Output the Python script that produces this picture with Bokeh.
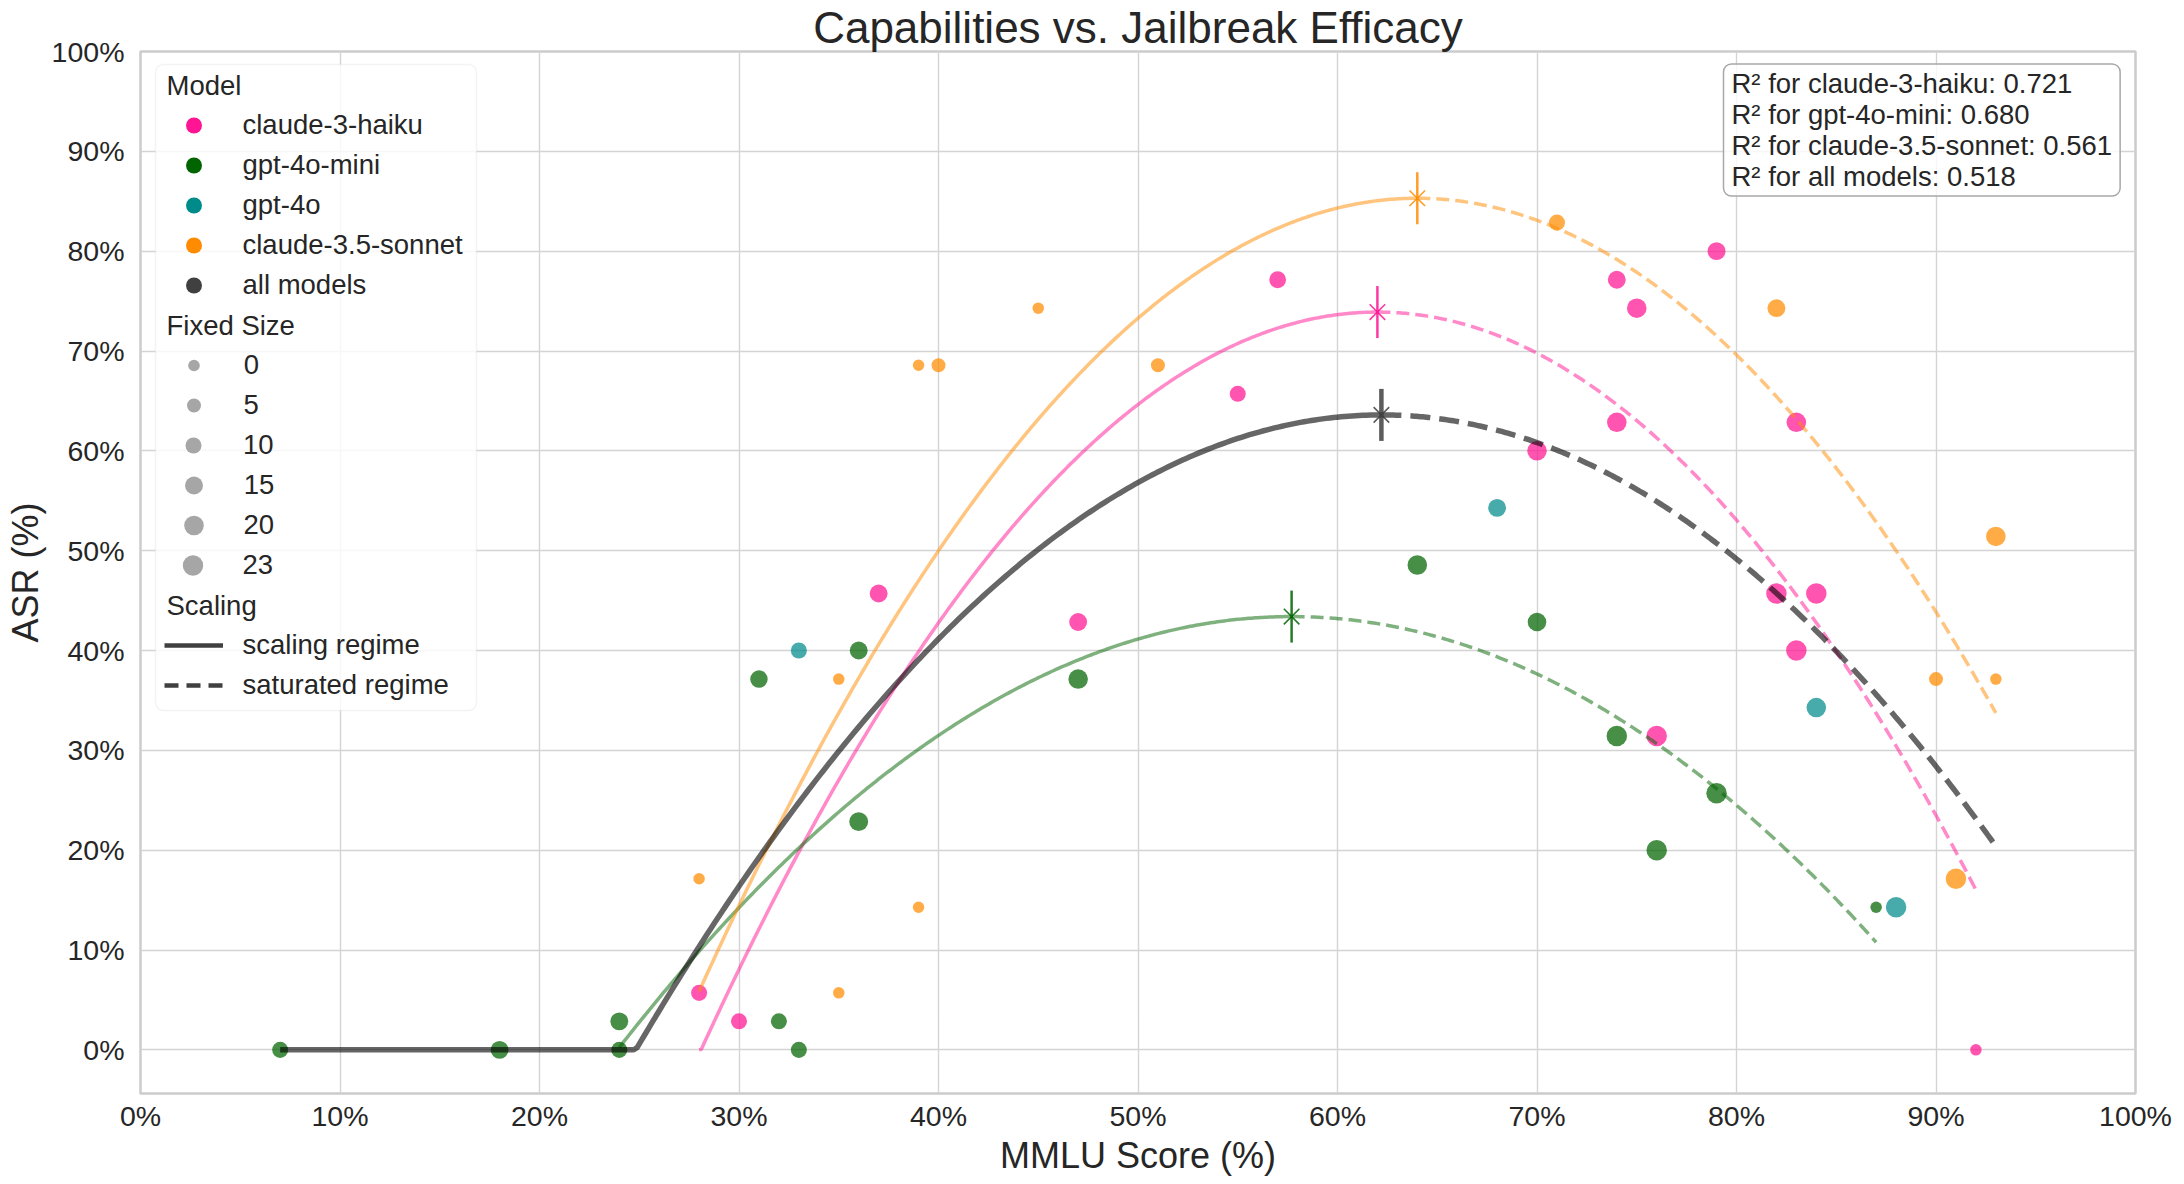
import numpy as np
from bokeh.plotting import figure
from bokeh.models import (Legend, LegendItem, Label, BoxAnnotation, FixedTicker,
                          Range1d, ColumnDataSource)
from bokeh.embed import file_html
from bokeh.resources import INLINE

FONT = "Liberation Sans"
TXT = "#262626"

# ---------------- data ----------------
models = ["claude-3-haiku", "gpt-4o-mini", "gpt-4o", "claude-3.5-sonnet"]
model_colors = ["#ff1493", "#006400", "#008b8b", "#ff8c00"]
all_label = "all models"
all_color = "#404040"

haiku_mmlu = [28, 30, 37, 47, 55, 57, 70, 74, 75, 74, 79, 82, 83, 83, 84, 76, 92]
haiku_asr = [5.71, 2.86, 45.71, 42.86, 65.71, 77.14, 60.0, 77.14, 74.29, 62.86,
             80.0, 45.71, 62.86, 40.0, 45.71, 31.43, 0.0]
haiku_size = [10, 10, 15, 15, 10, 12, 20, 15, 20, 20, 15, 23, 20, 23, 23, 23, 0]

mini_mmlu = [7, 18, 24, 24, 32, 33, 31, 36, 36, 47, 64, 70, 74, 76, 79, 87]
mini_asr = [0.0, 0.0, 0.0, 2.86, 2.86, 0.0, 37.14, 40.0, 22.86, 37.14, 48.57,
            42.86, 31.43, 20.0, 25.71, 14.29]
mini_size = [10, 15, 10, 15, 10, 10, 14, 15, 18, 20, 20, 17, 23, 23, 23, 0]

gpt4o_mmlu = [33, 68, 84, 88]
gpt4o_asr = [40.0, 54.29, 34.29, 14.29]
gpt4o_size = [10, 15, 20, 23]

sonnet_mmlu = [28, 35, 35, 39, 39, 40, 45, 51, 71, 82, 90, 91, 93, 93]
sonnet_asr = [17.14, 5.71, 37.14, 14.29, 68.57, 68.57, 74.29, 68.57, 82.86,
              74.29, 37.14, 17.14, 51.43, 37.14]
sonnet_size = [0, 0, 0, 0, 0, 5, 0, 5, 10, 15, 5, 23, 20, 0]

# quadratic fits (peak, curvature, x-extent)
fit_models = ["claude-3-haiku", "gpt-4o-mini", "claude-3.5-sonnet", "all models"]
fit_colors = ["#ff1493", "#006400", "#ff8c00", "#000000"]
fit_peak_x = [62.0, 57.7, 64.0, 62.2]
fit_peak_y = [73.9, 43.4, 85.3, 63.6]
fit_curv = [0.0643, 0.0380, 0.0613, 0.04554]
fit_x_min = [28, 24, 28, 7]
fit_x_max = [92, 87, 93, 93]

r2_models = ["claude-3-haiku", "gpt-4o-mini", "claude-3.5-sonnet", "all models"]
r2_values = [0.721, 0.680, 0.561, 0.518]

size_legend_values = [0, 5, 10, 15, 20, 23]
x_ticks = list(range(0, 101, 10))
y_ticks = list(range(0, 101, 10))

# ---------------- figure ----------------
W, H = 2184, 1184
FL, FT, FW, FH = 140, 50, 1995, 1043     # frame left/top/width/height
p = figure(width=W, height=H, output_backend="svg", toolbar_location=None,
           x_range=Range1d(0, 100), y_range=Range1d(-4.37, 100),
           min_border_left=FL, min_border_top=FT,
           min_border_right=W - FL - FW, min_border_bottom=H - FT - FH)
p.background_fill_color = "white"
p.border_fill_color = "white"
p.outline_line_color = "#cccccc"
p.outline_line_width = 2.5

p.title.text = "Capabilities vs. Jailbreak Efficacy"
p.title.align = "center"
p.title.text_font = FONT
p.title.text_font_size = "44px"
p.title.text_font_style = "normal"
p.title.text_color = TXT
p.title.standoff = 0

for ax, tk in ((p.xaxis, x_ticks), (p.yaxis, y_ticks)):
    ax.ticker = FixedTicker(ticks=tk)
    ax.major_label_overrides = {t: f"{t}%" for t in tk}
    ax.axis_line_color = None
    ax.major_tick_line_color = None
    ax.minor_tick_line_color = None
    ax.major_label_text_font = FONT
    ax.major_label_text_font_size = "28.5px"
    ax.major_label_text_color = TXT
    ax.axis_label_text_font = FONT
    ax.axis_label_text_font_size = "36px"
    ax.axis_label_text_font_style = "normal"
    ax.axis_label_text_color = TXT
p.xaxis.axis_label = "MMLU Score (%)"
p.yaxis.axis_label = "ASR (%)"
p.xaxis.major_label_standoff = 0
p.xaxis.axis_label_standoff = 0
p.yaxis.major_label_standoff = 10
p.yaxis.axis_label_standoff = 3
p.grid.grid_line_color = "#d4d4d4"
p.grid.grid_line_width = 1.4

D0, D1 = 11.5, 20.5
def diam(s):
    s = np.asarray(s, dtype=float)
    return np.sqrt(D0 ** 2 + (s / 23.0) * (D1 ** 2 - D0 ** 2))

# scatter points
series = [(haiku_mmlu, haiku_asr, haiku_size), (mini_mmlu, mini_asr, mini_size),
          (gpt4o_mmlu, gpt4o_asr, gpt4o_size), (sonnet_mmlu, sonnet_asr, sonnet_size)]
for (xs, ys, ss), c in zip(series, model_colors):
    src = ColumnDataSource(dict(x=xs, y=ys, d=diam(ss)))
    p.scatter("x", "y", size="d", source=src, marker="circle",
              fill_color=c, fill_alpha=0.72, line_color=None)

# fit lines
for name, c, px, py, a, x0, x1 in zip(fit_models, fit_colors, fit_peak_x, fit_peak_y,
                                      fit_curv, fit_x_min, fit_x_max):
    is_all = name == "all models"
    lw = 5.5 if is_all else 3.5
    alpha = 0.6 if is_all else 0.5
    dash = "20 9" if is_all else "13 6"
    xa = np.linspace(x0, px, 300)
    xb = np.linspace(px, x1, 300)
    ya = np.maximum(0, py - a * (xa - px) ** 2)
    yb = np.maximum(0, py - a * (xb - px) ** 2)
    p.line(xa, ya, line_color=c, line_width=lw, line_alpha=alpha)
    p.line(xb, yb, line_color=c, line_width=lw, line_alpha=alpha, line_dash=dash)

# peak markers
for name, c, px, py in zip(fit_models, fit_colors, fit_peak_x, fit_peak_y):
    is_all = name == "all models"
    mc = all_color if is_all else c
    p.scatter([px], [py], marker="x", size=22, line_color=mc, line_width=1.6, line_alpha=0.85)
    p.scatter([px], [py], marker="dash", angle=np.pi / 2, size=52, line_color=mc,
              line_width=4.5 if is_all else 2.5, line_alpha=0.85)

# R^2 box (anchor = box corner)
r2_text = "\n".join(f"R\u00b2 for {m}: {v:.3f}" for m, v in zip(r2_models, r2_values))
p.add_layout(Label(x=1723 - FL, y=FH - 13.5, x_units="screen", y_units="screen",
                   text=r2_text, text_align="left", text_baseline="top",
                   text_font=FONT, text_font_size="27.5px", text_color=TXT,
                   text_line_height=1.0,
                   padding=dict(left=8, right=8, top=4, bottom=4),
                   background_fill_color="white", background_fill_alpha=0.8,
                   border_line_color="#a8a8a8", border_line_width=1.5, border_radius=8))

# ---------------- legend ----------------
SX0, SY0 = FL, FT + FH          # picture coords of frame left / bottom
def fx(sx):
    return sx - SX0
def fy(sy):
    return SY0 - sy

p.add_layout(BoxAnnotation(left=fx(155), right=fx(476), top=fy(64), bottom=fy(710),
                           left_units="screen", right_units="screen",
                           top_units="screen", bottom_units="screen",
                           fill_color="white", fill_alpha=0.8,
                           line_color="#d6d6d6", line_width=1.5, border_radius=8))

ROW0, PITCH = 85, 40
GLX, LBLX = 193, 243          # glyph centre x, label start x
def leg(items, gw, gh, top, x0, standoff):
    n = len(items)
    lg = Legend(items=items, location=(fx(x0), fy(top + n * gh)),
                glyph_width=int(round(gw)), glyph_height=int(round(gh)), spacing=0,
                padding=0, margin=0, label_standoff=int(round(standoff)),
                label_text_font=FONT, label_text_font_size="27.5px", label_text_color=TXT,
                label_height=int(round(gh)), border_line_color=None,
                background_fill_alpha=0, orientation="vertical")
    p.add_layout(lg)

def header(text, row):
    p.add_layout(Label(x=fx(166), y=fy(ROW0 + row * PITCH), x_units="screen", y_units="screen",
                       text=text, text_align="left", text_baseline="middle",
                       text_font=FONT, text_font_size="27.5px", text_color=TXT))

NAN = [float("nan")]
# Model section
header("Model", 0)
m_items = []
for m, c in list(zip(models, model_colors)) + [(all_label, all_color)]:
    r = p.scatter(x=NAN, y=NAN, marker="circle", fill_color=c, line_color=None, size=10)
    m_items.append(LegendItem(label=m, renderers=[r]))
gw = 59
leg(m_items, gw, PITCH, ROW0 + PITCH // 2, GLX - gw / 2, LBLX - (GLX + gw / 2))

# Fixed Size section
header("Fixed Size", 6)
for k, s in enumerate(size_legend_values):
    d = float(diam([s])[0])
    gw_s = d / 0.4
    gh_s = 52
    centre = ROW0 + (7 + k) * PITCH
    r = p.scatter(x=NAN, y=NAN, marker="circle", fill_color="#a6a6a6", line_color=None, size=10)
    leg([LegendItem(label=str(s), renderers=[r])], gw_s, gh_s, centre - gh_s / 2,
        GLX - gw_s / 2, LBLX - (GLX + gw_s / 2))

# Scaling section
header("Scaling", 13)
r1 = p.line(x=NAN, y=NAN, line_color=all_color, line_width=4.5)
r2 = p.line(x=NAN, y=NAN, line_color=all_color, line_width=4.5, line_dash="14 8")
leg([LegendItem(label="scaling regime", renderers=[r1]),
     LegendItem(label="saturated regime", renderers=[r2])],
    gw, PITCH, ROW0 + 14 * PITCH - PITCH // 2, GLX - gw / 2, LBLX - (GLX + gw / 2))

open("out.html", "w").write(file_html(p, INLINE))
